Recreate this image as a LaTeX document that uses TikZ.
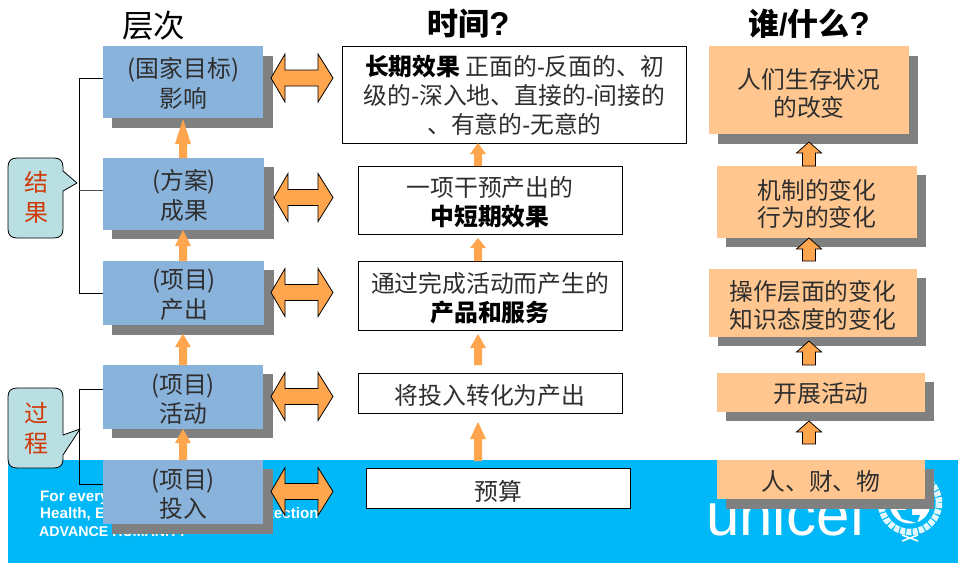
\documentclass[tikz,border=0pt]{standalone}
\usepackage{fontspec}
\setmainfont{Noto Sans CJK SC}
\newfontfamily\latinfont{Liberation Sans}
\usetikzlibrary{shapes.arrows}
\definecolor{bandc}{HTML}{00B8F8}
\definecolor{bluebox}{HTML}{8AB3DB}
\definecolor{peach}{HTML}{FFC78F}
\definecolor{arrowc}{HTML}{FFA54D}
\definecolor{calloutc}{HTML}{B9DFE2}
\definecolor{shadowc}{HTML}{808080}
\definecolor{redtext}{HTML}{D03A08}
\definecolor{bodytext}{HTML}{2E2E2E}
\tikzset{
  x=1pt,y=-1pt,
  body/.style={font=\fontsize{23.8}{29.5}\selectfont,text=bodytext,align=center,inner sep=0pt},
  midtxt/.style={font=\fontsize{23.8}{29}\selectfont,text=bodytext,align=center,inner sep=0pt},
  whotxt/.style={font=\fontsize{23.8}{27.5}\selectfont,text=bodytext,align=center,inner sep=0pt},
  headtxt/.style={font=\fontsize{31}{31}\selectfont\bfseries,text=black,inner sep=0pt},
  whitebox/.style={draw=black,fill=white,line width=1pt},
  shadowbox/.style={fill=shadowc},
  levelbox/.style={fill=bluebox},
  whobox/.style={fill=peach},
  thinup/.style={fill=arrowc},
  blockup/.style={fill=arrowc,draw=black,line width=0.8pt},
  dbl/.style={fill=arrowc,draw=black,line width=0.8pt},
  calloutbox/.style={fill=calloutc,draw=black,line width=0.8pt,line join=round},
  calltxt/.style={font=\fontsize{24}{30}\selectfont,text=redtext,align=center,inner sep=0pt},
  bracket/.style={draw=black,line width=0.8pt},
  slogan/.style={font=\latinfont\fontsize{15.2}{15}\selectfont\bfseries,text=white,anchor=west,inner sep=0pt}
}
\newcommand{\bx}[6]{% style, name, x0,y0,x1,y1
  \path[#1] (#3,#4) rectangle (#5,#6);
  \coordinate (#2) at ({(#3+#5)/2},{(#4+#6)/2});
}
\newcommand{\dblarrow}[3]{% x0,cy,name
  \path[dbl] (#1,#2) -- (#1+14,#2-24) -- (#1+14,#2-8) -- (318,#2-8) -- (318,#2-24) -- (333,#2) -- (318,#2+24) -- (318,#2+8) -- (#1+14,#2+8) -- (#1+14,#2+24) -- cycle;
  \coordinate (#3) at ({(#1+333)/2},#2);
}
\newcommand{\thinarrow}[4]{% cx, tip, base, bottom
  \path[thinup] (#1-4,#4) -- (#1-4,#3) -- (#1-8,#3) -- (#1,#2) -- (#1+8,#3) -- (#1+4,#3) -- (#1+4,#4) -- cycle;
}
\newcommand{\blockarrow}[3]{% tip, base, bottom
  \path[blockup] (802.5,#3) -- (802.5,#2) -- (796.5,#2) -- (809,#1) -- (821.5,#2) -- (815.5,#2) -- (815.5,#3) -- cycle;
}
\begin{document}
\begin{tikzpicture}
\useasboundingbox (0,0) rectangle (958,563);
% band
\path[fill=bandc] (8,460) rectangle (958,563);
% slogan
\node[slogan] (s1) at (40,497.5) {For every child};
\node[slogan] (s2) at (40,514.5) {Health, Education, Equality, Protection};
\node[slogan,font=\latinfont\fontsize{14.2}{15}\selectfont\bfseries] (s3) at (39,531.5) {ADVANCE HUMANITY};
% logo
\node[font=\latinfont\fontsize{60}{60}\selectfont,text=white,anchor=base west,inner sep=0pt] (logo) at (706,535) {unicef};
\begin{scope}[white]
  \draw[white!88!bandc,line width=6.5pt,dash pattern=on 5pt off 1.3pt] (910,503) circle (29);
  \fill (910,503) circle (20.5);
  \path[fill=bandc] (897,510) -- (906,510) -- (906,505) -- (912,505) -- (912,515) -- (920,515) -- (917,523) -- (902,519) -- cycle;
  \draw[line width=1.5pt] (902,541) -- (918,535) (918,541) -- (902,535);
\end{scope}
% titles
\node[headtxt,font=\fontsize{31.5}{31}\selectfont] (t1) at (153.5,26) {层次};
\node[headtxt] (t2) at (468.5,24) {时间{\latinfont\fontsize{33}{33}\selectfont ?}};
\node[headtxt] (t3) at (809,24) {谁{\latinfont /}什么{\latinfont\fontsize{33}{33}\selectfont ?}};
% shadows and level boxes
\path[shadowbox] (112,56) rectangle (273,128);
\path[shadowbox] (112,167) rectangle (274,239);
\path[shadowbox] (112,270) rectangle (274,335);
\path[shadowbox] (112,374) rectangle (273,438);
\path[shadowbox] (112,469) rectangle (273,534);
% brackets
\coordinate (c0) at (79,78);
\coordinate (c1) at (79,190);
\coordinate (c2) at (79,293);
\coordinate (c3) at (79,389);
\coordinate (c4) at (79,484);
\bx{levelbox}{b1}{103}{46}{263}{118}
\bx{levelbox}{b2}{103}{158}{264}{230}
\bx{levelbox}{b3}{103}{261}{264}{325}
\bx{levelbox}{b4}{103}{365}{263}{429}
\bx{levelbox}{b5}{103}{460}{263}{524}
\draw[bracket] (103,78) -- (c0) -- (c2) -- (103,293);
\draw[bracket,draw=black!70] (c1) -- (103,190);
\draw[bracket] (103,389) -- (c3) -- (c4) -- (103,484);
\node[body] (n1) at (183.5,83.5) {(国家目标)\\影响};
\node[body] (n2) at (184,195.5) {(方案)\\成果};
\node[body] (n3) at (184,295) {(项目)\\产出};
\node[body] (n4) at (183,399) {(项目)\\活动};
\node[body] (n5) at (183,494) {(项目)\\投入};
% left arrows
\thinarrow{183}{119}{144}{158}
\thinarrow{183}{230}{246}{261}
\thinarrow{183}{334}{347}{365}
\thinarrow{183}{429}{443}{460}
% double arrows
\dblarrow{271}{78}{d1}
\dblarrow{274}{197.5}{d2}
\dblarrow{271}{292.5}{d3}
\dblarrow{271}{396.5}{d4}
\dblarrow{271}{491.5}{d5}
% middle
\bx{whitebox}{m1}{342}{46.5}{686}{143}
\bx{whitebox}{m2}{358}{166}{622}{234}
\bx{whitebox}{m3}{358}{261}{622}{330}
\bx{whitebox}{m4}{358}{373}{622}{413}
\bx{whitebox}{m5}{366}{468}{630}{508}
\node[midtxt] (mt1) at (514.5,95) {\textbf{\textcolor{black}{长期效果}} 正面的{\latinfont -}反面的、初\\级的{\latinfont -}深入地、直接的{\latinfont -}间接的\\、有意的{\latinfont -}无意的};
\node[midtxt] (mt2) at (490,202) {一项干预产出的\\\textbf{\textcolor{black}{中短期效果}}};
\node[midtxt] (mt3) at (490,298) {通过完成活动而产生的\\\textbf{\textcolor{black}{产品和服务}}};
\node[midtxt] (mt4) at (490,396) {将投入转化为产出};
\node[midtxt] (mt5) at (498,491) {预算};
\thinarrow{478}{143}{154}{166}
\thinarrow{478}{238}{248}{261}
\thinarrow{478}{334}{348}{365}
\thinarrow{478}{422}{439}{461}
% right
\path[shadowbox] (718,56) rectangle (918,144);
\path[shadowbox] (726,175) rectangle (926,247);
\path[shadowbox] (718,278) rectangle (926,346);
\path[shadowbox] (726,382) rectangle (934,421);
\path[shadowbox] (726,469) rectangle (934,509);
\bx{whobox}{w1}{709}{46}{909}{134}
\bx{whobox}{w2}{717}{166}{917}{238}
\bx{whobox}{w3}{709}{269}{917}{337}
\bx{whobox}{w4}{717}{373}{925}{412}
\bx{whobox}{w5}{717}{460}{925}{499}
\node[whotxt] (wt1) at (809,93.5) {人们生存状况\\的改变};
\node[whotxt] (wt2) at (817,204) {机制的变化\\行为的变化};
\node[whotxt] (wt3) at (813,305.5) {操作层面的变化\\知识态度的变化};
\node[whotxt] (wt4) at (821,394) {开展活动};
\node[whotxt] (wt5) at (821,481) {人、财、物};
\blockarrow{142}{153}{166}
\blockarrow{238}{249}{261}
\blockarrow{341}{352}{365}
\blockarrow{421}{432}{444}
% callouts
\path[calloutbox] (17,158) -- (54,158) .. controls (60,158) and (63,161) .. (63,167) -- (63,171) -- (77,183) -- (63,191) -- (63,229) .. controls (63,235) and (60,238) .. (54,238) -- (17,238) .. controls (11,238) and (8,235) .. (8,229) -- (8,167) .. controls (8,161) and (11,158) .. (17,158) -- cycle;
\path[calloutbox] (17,388) -- (54,388) .. controls (60,388) and (63,391) .. (63,397) -- (63,435) -- (80,429) -- (63,455) -- (63,459) .. controls (63,465) and (60,468) .. (54,468) -- (17,468) .. controls (11,468) and (8,465) .. (8,459) -- (8,397) .. controls (8,391) and (11,388) .. (17,388) -- cycle;
\node[calltxt] (k1) at (36,197) {结\\果};
\node[calltxt] (k2) at (36,428) {过\\程};
\end{tikzpicture}
\end{document}
